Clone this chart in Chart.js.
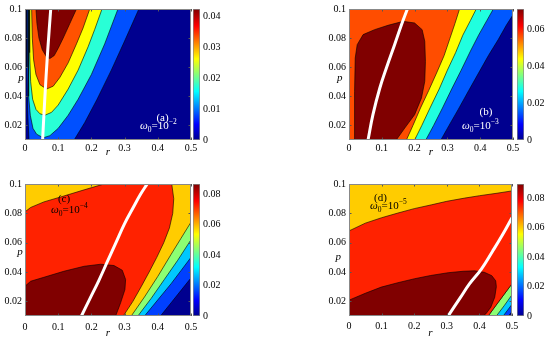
<!DOCTYPE html>
<html>
<head>
<meta charset="utf-8">
<script src="https://cdn.jsdelivr.net/npm/chart.js@4/dist/chart.umd.min.js"></script>
<style>
html, body { margin: 0; padding: 0; background: #fff; }
#wrap { position: relative; width: 550px; height: 342px; overflow: hidden; }
#wrap canvas { position: absolute; }
</style>
</head>
<body>
<div id="wrap"></div>
<script>
// axis values
const rTicks = [0, 0.1, 0.2, 0.3, 0.4, 0.5];
const pTicks = [0.02, 0.04, 0.06, 0.08, 0.1];
const rRange = [0, 0.5];
const pRange = [0.01, 0.1];
const panelTags = ['(a)', '(b)', '(c)', '(d)'];
const omegaExp = [-2, -3, -4, -5];

// colour bars
const barTicks = [
    [0, 0.01, 0.02, 0.03, 0.04],
    [0, 0.02, 0.04, 0.06],
    [0, 0.02, 0.04, 0.06, 0.08],
    [0, 0.02, 0.04, 0.06, 0.08]
];
const barMax = [0.0423, 0.0708, 0.0866, 0.0895];

// (a) omega0 = 1e-2 : contour bands as [r, p]
const aBlue = [[0.005, 0.1], [0.006, 0.06], [0.008, 0.03], [0.012, 0.01], [0.148, 0.01], [0.18, 0.022], [0.216, 0.0375], [0.26, 0.058], [0.3, 0.078], [0.343, 0.1]];
const aCyan = [[0.01, 0.1], [0.01, 0.06], [0.012, 0.04], [0.016, 0.027], [0.024, 0.018], [0.035, 0.014], [0.055, 0.0115], [0.075, 0.013], [0.1, 0.018], [0.13, 0.027], [0.16, 0.038], [0.2, 0.055], [0.24, 0.076], [0.28, 0.1]];
const aYellow = [[0.013, 0.1], [0.014, 0.07], [0.017, 0.05], [0.023, 0.038], [0.033, 0.031], [0.045, 0.028], [0.06, 0.027], [0.08, 0.029], [0.1, 0.034], [0.13, 0.045], [0.16, 0.058], [0.19, 0.074], [0.21, 0.086], [0.232, 0.1]];
const aOrange = [[0.02, 0.1], [0.022, 0.08], [0.026, 0.065], [0.033, 0.055], [0.045, 0.048], [0.065, 0.045], [0.085, 0.047], [0.105, 0.053], [0.13, 0.063], [0.155, 0.076], [0.175, 0.087], [0.195, 0.1]];
const aDarkRed = [[0.033, 0.1], [0.036, 0.09], [0.042, 0.08], [0.052, 0.072], [0.065, 0.067], [0.075, 0.066], [0.088, 0.068], [0.1, 0.073], [0.115, 0.08], [0.135, 0.09], [0.155, 0.1]];
const aRidge = [[0.053, 0.01], [0.06, 0.04], [0.068, 0.07], [0.0775, 0.1]];

// (b) omega0 = 1e-3
const bBlueEdge = [[0.28, 0.01], [0.305, 0.02], [0.333, 0.031], [0.365, 0.044], [0.395, 0.056], [0.425, 0.068], [0.455, 0.079], [0.48, 0.089], [0.5, 0.096]];
const bCyanEdge = [[0.234, 0.01], [0.258, 0.02], [0.285, 0.032], [0.313, 0.045], [0.342, 0.058], [0.37, 0.071], [0.395, 0.082], [0.42, 0.092], [0.44, 0.1]];
const bYellowEdge = [[0.2, 0.01], [0.222, 0.02], [0.247, 0.032], [0.275, 0.045], [0.3, 0.058], [0.325, 0.07], [0.347, 0.082], [0.37, 0.092], [0.388, 0.1]];
const bOrangeEdge = [[0.175, 0.01], [0.195, 0.02], [0.218, 0.032], [0.243, 0.044], [0.267, 0.056], [0.29, 0.068], [0.308, 0.08], [0.323, 0.09], [0.337, 0.1]];
const bDarkRed = [[0.017, 0.01], [0.017, 0.0434], [0.019, 0.0663], [0.025, 0.0755], [0.043, 0.0824], [0.078, 0.0858], [0.119, 0.0888], [0.165, 0.0915], [0.2, 0.0904], [0.223, 0.0858], [0.231, 0.0778], [0.233, 0.064], [0.231, 0.0503], [0.221, 0.0389], [0.2, 0.0274], [0.17, 0.0182], [0.144, 0.01]];
const bRidge = [[0.058, 0.01], [0.073, 0.0274], [0.094, 0.0457], [0.114, 0.0595], [0.139, 0.0755], [0.16, 0.0892], [0.178, 0.1]];

// (c) omega0 = 1e-4
const cBlueEdge = [[0.408, 0.01], [0.44, 0.019], [0.47, 0.0275], [0.5, 0.036]];
const cCyanEdge = [[0.36, 0.01], [0.4, 0.021], [0.44, 0.032], [0.47, 0.041], [0.5, 0.05]];
const cGreenEdge = [[0.34, 0.01], [0.38, 0.022], [0.42, 0.035], [0.46, 0.048], [0.5, 0.062]];
const cGoldEdge = [[0.32, 0.01], [0.36, 0.023], [0.4, 0.037], [0.44, 0.052], [0.47, 0.063], [0.5, 0.074]];
const cRedTop = [[0, 0.081], [0.017, 0.084], [0.057, 0.0878], [0.117, 0.0918], [0.178, 0.096], [0.238, 0.1]];
const cRedRight = [[0.442, 0.1], [0.448, 0.09], [0.445, 0.08], [0.435, 0.07], [0.418, 0.06], [0.397, 0.05], [0.374, 0.04], [0.35, 0.03], [0.325, 0.02], [0.296, 0.01]];
const cDarkRed = [[0, 0.01], [0, 0.0303], [0.017, 0.0337], [0.057, 0.0364], [0.117, 0.0405], [0.178, 0.0439], [0.228, 0.0453], [0.268, 0.0444], [0.293, 0.0412], [0.303, 0.0349], [0.301, 0.028], [0.288, 0.019], [0.273, 0.01]];
const cRidge = [[0.17, 0.01], [0.196, 0.022], [0.222, 0.034], [0.248, 0.047], [0.274, 0.06], [0.3, 0.073], [0.326, 0.084], [0.348, 0.093], [0.368, 0.1]];

// (d) omega0 = 1e-5
const dBlueEdge = [[0.489, 0.01], [0.5, 0.013]];
const dCyanEdge = [[0.473, 0.01], [0.5, 0.018]];
const dGreenEdge = [[0.452, 0.01], [0.476, 0.017], [0.5, 0.0245]];
const dGoldEdge = [[0.427, 0.01], [0.45, 0.017], [0.475, 0.0245], [0.5, 0.032]];
const dRedTop = [[0, 0.068], [0.05, 0.0733], [0.1, 0.077], [0.15, 0.0802], [0.2, 0.0832], [0.253, 0.0858], [0.3, 0.0882], [0.355, 0.0904], [0.4, 0.092], [0.457, 0.0938], [0.5, 0.0953]];
const dDarkRed = [[0, 0.01], [0, 0.0208], [0.05, 0.0255], [0.099, 0.0297], [0.15, 0.0327], [0.201, 0.0354], [0.25, 0.0376], [0.304, 0.0395], [0.35, 0.0405], [0.385, 0.0408], [0.415, 0.0398], [0.438, 0.0375], [0.45, 0.034], [0.452, 0.03], [0.447, 0.0228], [0.435, 0.016], [0.42, 0.0115], [0.411, 0.01]];
const dRidge = [[0.304, 0.01], [0.34, 0.022], [0.37, 0.032], [0.406, 0.042], [0.44, 0.054], [0.47, 0.065], [0.5, 0.077]];

const SERIF = '"Liberation Serif", "Times New Roman", serif';
Chart.defaults.font.family = SERIF;
Chart.defaults.font.size = 10;
Chart.defaults.color = '#000';

// band above/left of an edge that runs from the bottom to the top or right side
function upLeft(edge) {
    const pts = edge.slice();
    if (edge[edge.length - 1][1] < pRange[1]) pts.push([rRange[1], pRange[1]]);
    pts.push([rRange[0], pRange[1]], [rRange[0], pRange[0]]);
    return pts;
}

const panels = [
    {
        box: { left: 0, top: 0, w: 202, h: 171 }, padTop: 9, xAxisH: 31, labelPad: 2, titlePad: 12,
        bar: { left: 192, top: 0, w: 30, h: 171 },
        base: '#00008f',
        regions: [[aBlue, '#0050ff'], [aCyan, '#29ffd6'], [aYellow, '#ffff00'], [aOrange, '#ff5200'], [aDarkRed, '#800000']],
        ridge: aRidge,
        text: { color: '#fff', pDx: -4, pDy: 69, tagDx: 137.5, tagDy: 109, wDx: 115, wDy: 119.5 }
    },
    {
        box: { left: 324, top: 0, w: 200, h: 171 }, padTop: 9, xAxisH: 31, labelPad: 2, titlePad: 12,
        bar: { left: 516, top: 0, w: 30, h: 171 },
        base: '#00008f',
        regions: [[upLeft(bBlueEdge), '#0058ff'], [upLeft(bCyanEdge), '#20ffdf'], [upLeft(bYellowEdge), '#ffff00'], [upLeft(bOrangeEdge), '#ff4d00'], [bDarkRed, '#800000']],
        ridge: bRidge,
        text: { color: '#fff', pDx: -9.3, pDy: 69, tagDx: 137, tagDy: 103, wDx: 113, wDy: 119.5 }
    },
    {
        box: { left: 0, top: 171, w: 202, h: 171 }, padTop: 13, xAxisH: 26, labelPad: 5, titlePad: 2,
        bar: { left: 192, top: 171, w: 30, h: 171 },
        base: '#00008f',
        regions: [[upLeft(cBlueEdge), '#0040ff'], [upLeft(cCyanEdge), '#00c8ff'], [upLeft(cGreenEdge), '#8cff73'], [upLeft(cGoldEdge), '#ffcc00'],
                  [cRedTop.concat(cRedRight, [[rRange[0], pRange[0]]]), '#ff2200'], [cDarkRed, '#800000']],
        ridge: cRidge,
        text: { color: '#000', pDx: -5, pDy: 68, tagDx: 39, tagDy: 15.5, wDx: 26, wDy: 29 }
    },
    {
        box: { left: 324, top: 171, w: 199, h: 171 }, padTop: 13, xAxisH: 26, labelPad: 4, titlePad: 2,
        bar: { left: 516, top: 171, w: 30, h: 171 },
        base: '#00008f',
        regions: [[upLeft(dBlueEdge), '#0040ff'], [upLeft(dCyanEdge), '#00c8ff'], [upLeft(dGreenEdge), '#8cff73'], [upLeft(dGoldEdge), '#ffcc00'],
                  [dRedTop.concat(dGoldEdge.slice().reverse(), [[rRange[0], pRange[0]]]), '#ff2200'], [dDarkRed, '#800000']],
        ridge: dRidge,
        text: { color: '#000', pDx: -10.7, pDy: 73, tagDx: 31.5, tagDy: 13.7, wDx: 21, wDy: 25 }
    }
];

const fmt = v => String(Number(Number(v).toFixed(3)));

// plot background = lowest contour level
const plotBg = {
    id: 'plotBg',
    beforeDatasetsDraw(chart, args, opts) {
        const a = chart.chartArea;
        chart.ctx.save();
        chart.ctx.fillStyle = opts.color;
        chart.ctx.fillRect(a.left, a.top, a.width, a.height);
        chart.ctx.restore();
    }
};

// grey box with small inward ticks, as in the matlab axes
const frame = {
    id: 'frame',
    afterDatasetsDraw(chart) {
        const { ctx, chartArea: a, scales } = chart;
        ctx.save();
        ctx.strokeStyle = '#555';
        ctx.lineWidth = 1;
        ctx.beginPath();
        rTicks.forEach(v => {
            const px = Math.round(scales.x.getPixelForValue(v)) + 0.5;
            ctx.moveTo(px, a.top); ctx.lineTo(px, a.top + 2.5);
            ctx.moveTo(px, a.bottom); ctx.lineTo(px, a.bottom - 2.5);
        });
        pTicks.forEach(v => {
            const py = Math.round(scales.y.getPixelForValue(v)) + 0.5;
            ctx.moveTo(a.left, py); ctx.lineTo(a.left + 2.5, py);
            ctx.moveTo(a.right, py); ctx.lineTo(a.right - 2.5, py);
        });
        ctx.stroke();
        ctx.strokeStyle = '#888';
        ctx.strokeRect(a.left + 0.5, a.top + 0.5, a.width - 1, a.height - 1);
        ctx.restore();
    }
};

// p label, panel tag and omega_0 note
const panelText = {
    id: 'panelText',
    afterDraw(chart, args, o) {
        const { ctx, chartArea: a } = chart;
        ctx.save();
        ctx.fillStyle = '#000';
        ctx.textAlign = 'center';
        ctx.textBaseline = 'middle';
        ctx.font = 'italic 11px ' + SERIF;
        ctx.fillText('p', a.left + o.pDx, a.top + o.pDy);

        ctx.fillStyle = o.color;
        ctx.font = '11px ' + SERIF;
        ctx.fillText(o.tag, a.left + o.tagDx, a.top + o.tagDy);

        ctx.textAlign = 'left';
        ctx.textBaseline = 'alphabetic';
        let x = a.left + o.wDx;
        const y = a.top + o.wDy;
        ctx.font = 'italic 11px ' + SERIF;
        ctx.fillText('\u03c9', x, y);
        x += ctx.measureText('\u03c9').width;
        ctx.font = '7.5px ' + SERIF;
        ctx.fillText('0', x, y + 3);
        x += ctx.measureText('0').width;
        ctx.font = '11px ' + SERIF;
        ctx.fillText('=10', x, y);
        x += ctx.measureText('=10').width;
        ctx.font = '7.5px ' + SERIF;
        ctx.fillText(String(o.exp).replace('-', '\u2212'), x, y - 5);
        ctx.restore();
    }
};

const wrap = document.getElementById('wrap');
function addCanvas(box) {
    const c = document.createElement('canvas');
    c.width = box.w;
    c.height = box.h;
    c.style.left = box.left + 'px';
    c.style.top = box.top + 'px';
    c.style.width = box.w + 'px';
    c.style.height = box.h + 'px';
    wrap.appendChild(c);
    return c;
}

function regionSet(points, color, order) {
    return {
        data: points.map(pt => ({ x: pt[0], y: pt[1] })),
        fill: 'shape',
        backgroundColor: color,
        borderColor: '#000',
        borderWidth: 0.6,
        pointRadius: 0,
        pointHoverRadius: 0,
        tension: 0,
        clip: 0,
        order: order
    };
}

function ridgeSet(points) {
    return {
        data: points.map(pt => ({ x: pt[0], y: pt[1] })),
        fill: false,
        borderColor: '#fff',
        borderWidth: 3,
        pointRadius: 0,
        pointHoverRadius: 0,
        tension: 0.4,
        clip: 0,
        order: 0
    };
}

function jet(chart) {
    const a = chart.chartArea;
    if (!a) return '#000080';
    const g = chart.ctx.createLinearGradient(0, a.bottom, 0, a.top);
    g.addColorStop(0, '#00008f');
    g.addColorStop(0.12, '#0000ff');
    g.addColorStop(0.37, '#00ffff');
    g.addColorStop(0.62, '#ffff00');
    g.addColorStop(0.87, '#ff0000');
    g.addColorStop(1, '#800000');
    return g;
}

panels.forEach(function(p, i) {
    const datasets = p.regions.map((rg, k) => regionSet(rg[0], rg[1], 100 - k));
    datasets.push(ridgeSet(p.ridge));

    new Chart(addCanvas(p.box), {
        type: 'line',
        data: { datasets: datasets },
        options: {
            responsive: false,
            animation: false,
            events: [],
            layout: { autoPadding: false, padding: { top: p.padTop, right: 11, left: 0, bottom: 0 } },
            plugins: {
                legend: { display: false },
                tooltip: { enabled: false },
                plotBg: { color: p.base },
                panelText: Object.assign({ tag: panelTags[i], exp: omegaExp[i] }, p.text)
            },
            scales: {
                x: {
                    type: 'linear',
                    min: rRange[0],
                    max: rRange[1],
                    afterBuildTicks: s => { s.ticks = rTicks.map(v => ({ value: v })); },
                    grid: { display: false, drawTicks: false },
                    border: { display: false },
                    ticks: { padding: p.labelPad, maxRotation: 0, autoSkip: false, callback: fmt },
                    title: { display: true, text: 'r', font: { style: 'italic', size: 11 }, padding: { top: 0, bottom: p.titlePad } },
                    afterFit: s => { s.height = p.xAxisH; s.paddingLeft = 0; s.paddingRight = 0; }
                },
                y: {
                    type: 'linear',
                    min: pRange[0],
                    max: pRange[1],
                    afterBuildTicks: s => { s.ticks = pTicks.map(v => ({ value: v })); },
                    grid: { display: false, drawTicks: false },
                    border: { display: false },
                    ticks: { padding: 3, autoSkip: false, callback: fmt },
                    afterFit: s => { s.width = 25; s.paddingTop = 0; s.paddingBottom = 0; }
                }
            }
        },
        plugins: [plotBg, frame, panelText]
    });

    // colour bar
    new Chart(addCanvas(p.bar), {
        type: 'bar',
        data: {
            labels: [''],
            datasets: [{
                data: [barMax[i]],
                backgroundColor: c => jet(c.chart),
                borderColor: '#888',
                borderWidth: 1,
                borderSkipped: false,
                barPercentage: 1,
                categoryPercentage: 1
            }]
        },
        options: {
            responsive: false,
            animation: false,
            events: [],
            layout: { autoPadding: false, padding: { top: p.padTop, bottom: p.xAxisH, left: 1, right: 0 } },
            plugins: { legend: { display: false }, tooltip: { enabled: false } },
            scales: {
                x: { display: false },
                y: {
                    position: 'right',
                    min: 0,
                    max: barMax[i],
                    afterBuildTicks: s => { s.ticks = barTicks[i].map(v => ({ value: v })); },
                    grid: { display: false, drawTicks: false },
                    border: { display: false },
                    ticks: { padding: 3, autoSkip: false, callback: fmt },
                    afterFit: s => { s.width = 22; s.paddingTop = 0; s.paddingBottom = 0; }
                }
            }
        }
    });
});
</script>
</body>
</html>
